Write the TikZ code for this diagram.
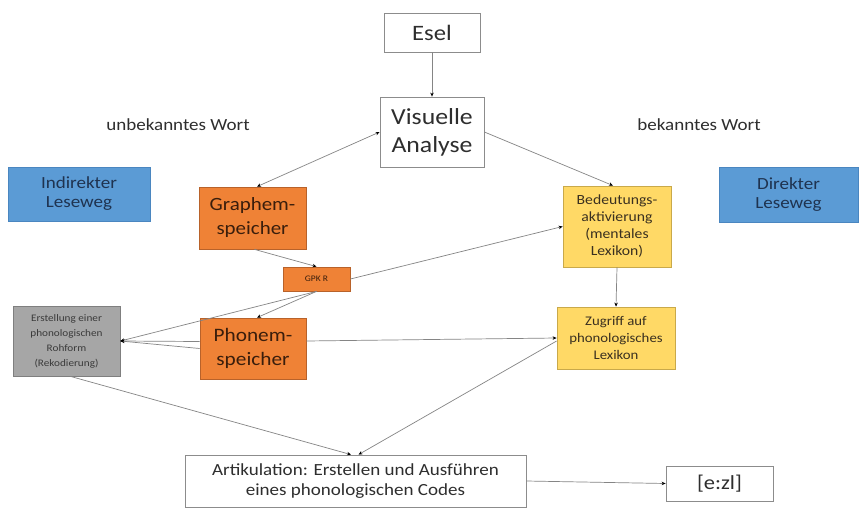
\documentclass[tikz,border=0pt]{standalone}
\usepackage{fontspec}
\setmainfont{Carlito}[FakeStretch=1.12]
\usetikzlibrary{arrows.meta}
\definecolor{bluefill}{HTML}{5B9BD5}
\definecolor{blueline}{HTML}{4A86C0}
\definecolor{bluetext}{HTML}{1F3350}
\definecolor{orfill}{HTML}{EF8236}
\definecolor{orline}{HTML}{B8622A}
\definecolor{ortext}{HTML}{3A1E0C}
\definecolor{yefill}{HTML}{FFD966}
\definecolor{yeline}{HTML}{C9A94A}
\definecolor{yetext}{HTML}{3A3020}
\definecolor{grfill}{HTML}{A6A6A6}
\definecolor{grline}{HTML}{7F7F7F}
\definecolor{grtext}{HTML}{3A3A3A}
\definecolor{boxline}{HTML}{8C8C8C}
\definecolor{txt}{HTML}{2E2E2E}
\definecolor{conn}{HTML}{858585}
\tikzset{
  base/.style={rectangle, align=center, inner sep=1pt, line width=0.8pt},
  whitebox/.style={base, draw=boxline, fill=white, text=txt},
  bluebox/.style={base, draw=blueline, fill=bluefill, text=bluetext},
  orbox/.style={base, draw=orline, fill=orfill, text=ortext},
  yebox/.style={base, draw=yeline, fill=yefill, text=yetext},
  grbox/.style={base, draw=grline, fill=grfill, text=grtext},
  lbl/.style={text=txt, inner sep=0pt},
  conn/.style={draw=conn, line width=0.7pt, -{Stealth[length=4pt,width=3.5pt,black]}},
  conn2/.style={draw=conn, line width=0.7pt, {Stealth[length=4pt,width=3.5pt,black]}-{Stealth[length=4pt,width=3.5pt,black]}}
}
\begin{document}
\begin{tikzpicture}[x=1pt,y=-1pt]
\useasboundingbox[fill=white] (0,0) rectangle (859,508);

\node[whitebox, minimum width=96pt, minimum height=39pt, font=\fontsize{22}{26}\selectfont] (esel) at (432,32.5) {Esel};
\node[whitebox, minimum width=104pt, minimum height=70pt, font=\fontsize{23}{28}\selectfont] (va) at (432,132) {Visuelle\\Analyse};

\node[lbl, font=\fontsize{17}{20}\selectfont] (unb) at (178,125) {unbekanntes Wort};
\node[lbl, font=\fontsize{17}{20}\selectfont] (bek) at (699,125) {bekanntes Wort};

\node[bluebox, minimum width=142pt, minimum height=54pt, font=\fontsize{17}{19}\selectfont] (ind) at (79,194) {Indirekter\\Leseweg};
\node[bluebox, minimum width=139pt, minimum height=55pt, font=\fontsize{17}{19}\selectfont] (dir) at (788.5,194.5) {Direkter\\Leseweg};

\node[orbox, minimum width=107pt, minimum height=62pt, font=\fontsize{18.7}{24}\selectfont] (gra) at (252.5,218) {Graphem-\\speicher};
\node[orbox, minimum width=67pt, minimum height=24pt, font=\fontsize{8.5}{10}\selectfont] (gpk) at (316.5,279) {GPK R};
\node[orbox, minimum width=106pt, minimum height=61pt, font=\fontsize{19}{24}\selectfont] (pho) at (253,348.5) {Phonem-\\speicher};

\node[grbox, minimum width=107pt, minimum height=70pt, font=\fontsize{10}{15}\selectfont] (gray) at (66.5,341) {Erstellung einer\\phonologischen\\Rohform\\(Rekodierung)};

\node[yebox, minimum width=108pt, minimum height=81pt, font=\fontsize{14}{17}\selectfont] (bed) at (617,226.5) {Bedeutungs-\\aktivierung\\(mentales\\Lexikon)};
\node[yebox, minimum width=118pt, minimum height=62pt, font=\fontsize{13.2}{17}\selectfont] (zug) at (616,338) {Zugriff auf\\phonologisches\\Lexikon};

\node[whitebox, minimum width=341pt, minimum height=52pt, font=\fontsize{17}{20.5}\selectfont] (art) at (355.5,481) {Artikulation: Erstellen und Ausführen\\eines phonologischen Codes};
\node[whitebox, minimum width=107pt, minimum height=35pt, font=\fontsize{20}{24}\selectfont] (ezl) at (719.5,483.5) {[e:zl]};

\draw[conn] (esel.south) -- (va.north);
\draw[conn2] ([xshift=4.5pt]gra.north) -- (va.west);
\draw[conn] (va.east) -- ([xshift=-4pt]bed.north);
\draw[conn] ([xshift=2pt]gra.south) -- (gpk.north);
\draw[conn] (gpk.east) -- (bed.west);
\draw[conn] (gpk.south) -- ([xshift=4pt]pho.north);
\draw[conn] (gpk.south) -- (gray.east);
\draw[conn] ([yshift=7pt]pho.west) -- (gray.east);
\draw[conn] (pho.west) -- (gray.east);
\draw[conn] ([yshift=7.5pt]pho.east) -- (zug.west);
\draw[conn] (bed.south) -- (zug.north);
\draw[conn] ([xshift=4pt]gray.south) -- ([xshift=-4.5pt]art.north);
\draw[conn] ([yshift=-3pt]zug.west) -- ([xshift=3pt]art.north);
\draw[conn] (art.east) -- (ezl.west);
\end{tikzpicture}
\end{document}
